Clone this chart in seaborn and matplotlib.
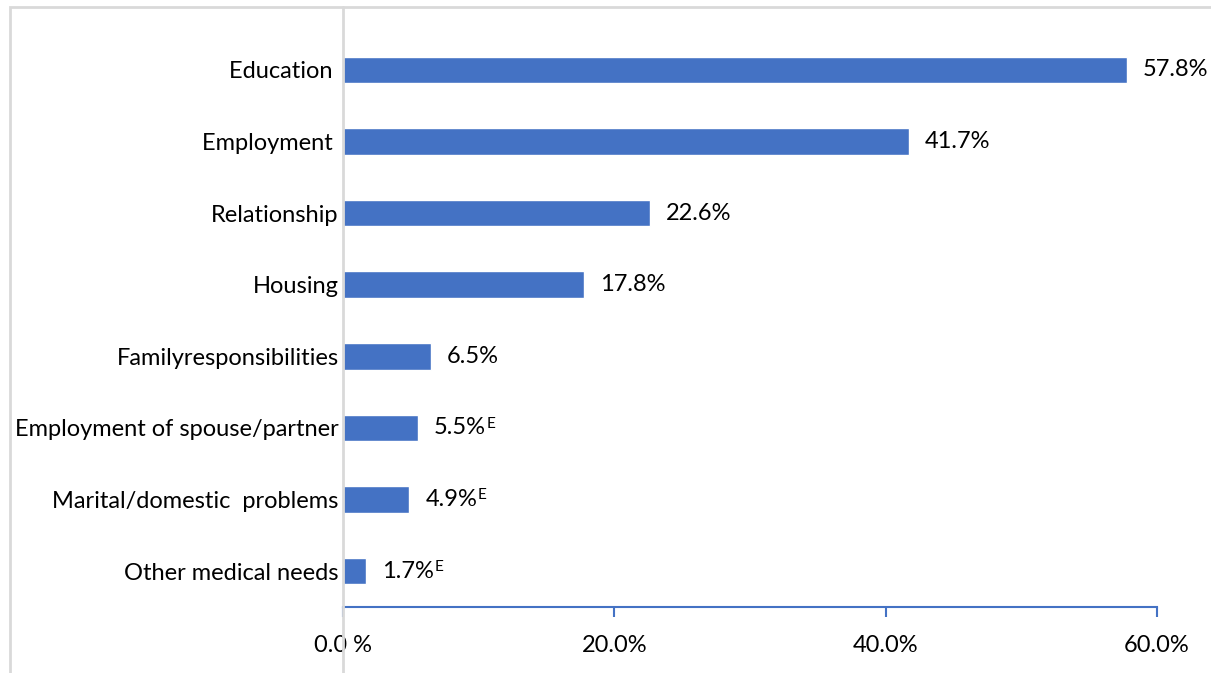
import matplotlib
matplotlib.use("Agg")
import matplotlib.pyplot as plt
from matplotlib.lines import Line2D
from matplotlib.patches import Rectangle
import seaborn as sns
import pandas as pd

categories = [
    "Education ",
    "Employment ",
    "Relationship",
    "Housing",
    "Familyresponsibilities",
    "Employment of spouse/partner",
    "Marital/domestic  problems",
    "Other medical needs",
]
values = [57.8, 41.7, 22.6, 17.8, 6.5, 5.5, 4.9, 1.7]
value_labels = ["57.8%", "41.7%", "22.6%", "17.8%", "6.5%", "5.5%", "4.9%", "1.7%"]
flags = ["", "", "", "", "", "E", "E", "E"]
x_ticks = [0, 20, 40, 60]
x_tick_labels = ["0.0 %", "20.0%", "40.0%", "60.0%"]

sns.set_theme(style="white")
plt.rcParams["font.family"] = ["Lato", "DejaVu Sans"]

W, H = 1211, 673
fig = plt.figure(figsize=(W / 100, H / 100), dpi=100)
ax = fig.add_axes([343 / W, 1 - 607 / H, (1157 - 343) / W, (607 - 34) / H])

df = pd.DataFrame({"reason": categories, "pct": values})
bar_color = "#4472C4"
sns.barplot(data=df, y="reason", x="pct", orient="h", color=bar_color,
            saturation=1, width=0.37, ax=ax)

fs = 17
ax.set_xlim(0, 60)
ax.set_ylim(len(categories) - 0.5, -0.5)
ax.set_xlabel("")
ax.set_ylabel("")
ax.set_xticks(x_ticks)
ax.set_xticklabels(x_tick_labels, fontsize=fs, color="black")
ax.tick_params(axis="x", direction="out", length=7, width=1.5,
               color=bar_color, pad=13, bottom=True)
ax.tick_params(axis="y", length=0, pad=3, labelsize=fs, labelcolor="black")

for side in ("top", "right", "left"):
    ax.spines[side].set_visible(False)
ax.spines["bottom"].set_color(bar_color)
ax.spines["bottom"].set_linewidth(1.5)

# value labels, with an "E" flag for estimates of lower reliability
for i, (v, lab, fl) in enumerate(zip(values, value_labels, flags)):
    t = ax.annotate(lab, xy=(v, i), xytext=(11.5, 0), textcoords="offset points",
                    ha="left", va="center", fontsize=fs, color="black")
    if fl:
        ax.annotate(fl, xy=(1, 1), xycoords=t, xytext=(0.5, 0.5),
                    textcoords="offset points", ha="left", va="top",
                    fontsize=fs * 0.65, color="black")

# vertical category axis line running the full height of the chart area
fig.add_artist(Line2D([343 / W, 343 / W], [0, 1 - 7 / H],
                      transform=fig.transFigure, color="#d9d9d9", lw=2, zorder=5))

# outer chart border
fig.add_artist(Rectangle((10 / W, -0.05), 1.1, 1 - 7 / H + 0.05,
                         transform=fig.transFigure, fill=False,
                         edgecolor="#d9d9d9", lw=2, zorder=0))

fig.savefig("out.png", dpi=100)
